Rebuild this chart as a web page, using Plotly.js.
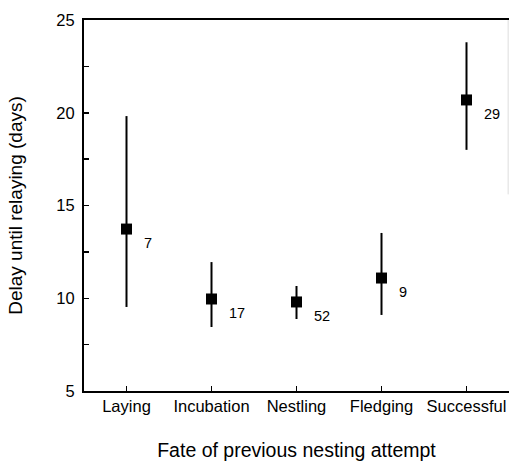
<!DOCTYPE html>
<html>
<head>
<meta charset="utf-8">
<script src="https://cdn.plot.ly/plotly-3.0.1.min.js"></script>
<style>html,body{margin:0;padding:0;background:#fff;}#chart{width:509px;height:465px;}</style>
</head>
<body>
<div id="chart"></div>
<script>
const categories = ["Laying", "Incubation", "Nestling", "Fledging", "Successful"];
const means = [13.73, 9.96, 9.8, 11.09, 20.69];
const upper = [19.82, 11.95, 10.66, 13.52, 23.8];
const lower = [9.53, 8.45, 8.88, 9.1, 18.0];
const sampleSizes = ["7", "17", "52", "9", "29"];

const errPlus = means.map((m, i) => upper[i] - m);
const errMinus = means.map((m, i) => m - lower[i]);
const xIdx = categories.map((c, i) => i);

const trace = {
  x: xIdx,
  y: means,
  type: "scatter",
  mode: "markers",
  marker: {symbol: "square", size: 11, color: "#000"},
  error_y: {type: "data", symmetric: false, array: errPlus, arrayminus: errMinus,
            color: "#000", thickness: 2, width: 0},
  hoverinfo: "skip",
  showlegend: false
};

const font = "Liberation Sans, Arial, Helvetica, sans-serif";

const annotations = sampleSizes.map((s, i) => ({
  x: xIdx[i], y: means[i], xref: "x", yref: "y",
  text: s, showarrow: false, xanchor: "left", yanchor: "middle",
  xshift: 15, yshift: -14,
  font: {family: font, size: 14.5, color: "#000"}
}));

const layout = {
  width: 509, height: 465,
  margin: {l: 84, r: 0, t: 20, b: 74},
  paper_bgcolor: "#fff", plot_bgcolor: "#fff",
  font: {family: font, color: "#000"},
  xaxis: {
    range: [-0.5, 4.5],
    tickmode: "array", tickvals: xIdx, ticktext: categories,
    ticks: "inside", ticklen: 5, tickwidth: 1.5, tickcolor: "#000",
    showline: true, linewidth: 2, linecolor: "#000", mirror: true,
    showgrid: false, zeroline: false,
    tickfont: {size: 16.5, family: font},
    ticklabelstandoff: -1,
    title: {text: "Fate of previous nesting attempt", font: {size: 19.5, family: font}, standoff: 30}
  },
  yaxis: {
    range: [5, 25],
    tickmode: "array", tickvals: [5, 10, 15, 20, 25],
    ticks: "inside", ticklen: 5, tickwidth: 1.5, tickcolor: "#000",
    minor: {tickvals: [7.5, 12.5, 17.5, 22.5], ticks: "inside", ticklen: 5, tickwidth: 1.5, tickcolor: "#000"},
    showline: true, linewidth: 2, linecolor: "#000",
    showgrid: false, zeroline: false,
    tickfont: {size: 16.5, family: font},
    ticklabelstandoff: 4,
    title: {text: "Delay until relaying (days)", font: {size: 19, family: font}, standoff: 29}
  },
  shapes: [{
    type: "line", xref: "paper", yref: "y", x0: 0.998, x1: 0.998, y0: 25, y1: 15.6,
    line: {color: "#dddddd", width: 1}
  }],
  annotations: annotations
};

Plotly.newPlot("chart", [trace], layout, {displayModeBar: false, staticPlot: true});
</script>
</body>
</html>
